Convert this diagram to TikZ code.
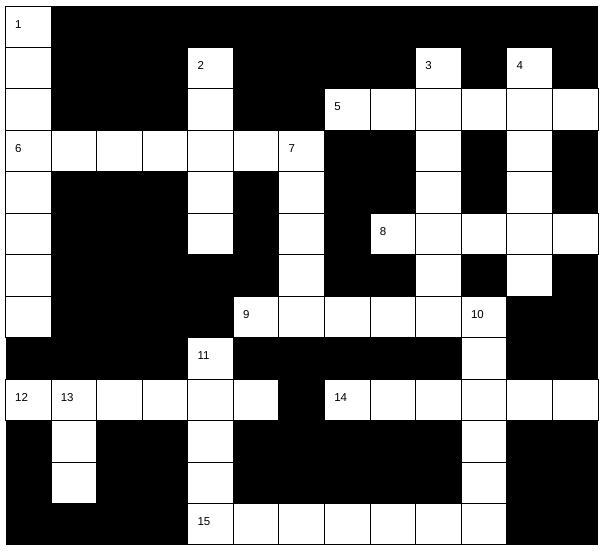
\documentclass[tikz,border=0pt]{standalone}
\usepackage{fontspec}
\setmainfont{Liberation Sans}
\begin{document}
\begin{tikzpicture}[x=1pt,y=-1pt,
  cell/.style={draw=black,fill=white,line width=1pt,minimum width=45.58pt,minimum height=41.46pt,inner sep=0pt,outer sep=0pt},
  num/.style={anchor=base west,inner sep=0pt,font=\fontsize{11.5}{12}\selectfont}]
\useasboundingbox[fill=white] (0,0) rectangle (605,550);
\fill[black] (5.5,6) rectangle (598,545);
\foreach \r/\cols in {1/{1},2/{1,5,10,12},3/{1,5,8,9,10,11,12,13},4/{1,2,3,4,5,6,7,10,12},
  5/{1,5,7,10,12},6/{1,5,7,9,10,11,12,13},7/{1,7,10,12},8/{1,6,7,8,9,10,11},9/{5,11},
  10/{1,2,3,4,5,6,8,9,10,11,12,13},11/{2,5,11},12/{2,5,11},13/{5,6,7,8,9,10,11}}{
  \foreach \c in \cols {
    \pgfmathsetmacro{\xx}{5.5+(\c-1)*45.58+22.79}
    \pgfmathsetmacro{\yy}{6+(\r-1)*41.46+20.73}
    \node[cell] (c\c-\r) at (\xx,\yy) {};
  }
}
\foreach \n/\c/\r in {1/1/1,2/5/2,3/10/2,4/12/2,5/8/3,6/1/4,7/7/4,8/9/6,9/6/8,10/11/8,11/5/9,12/1/10,13/2/10,14/8/10,15/5/13}{
  \pgfmathsetmacro{\xx}{5.5+(\c-1)*45.58+9.5}
  \pgfmathsetmacro{\yy}{6+(\r-1)*41.46+22}
  \node[num] (n\n) at (\xx,\yy) {\n};
}
\end{tikzpicture}
\end{document}
